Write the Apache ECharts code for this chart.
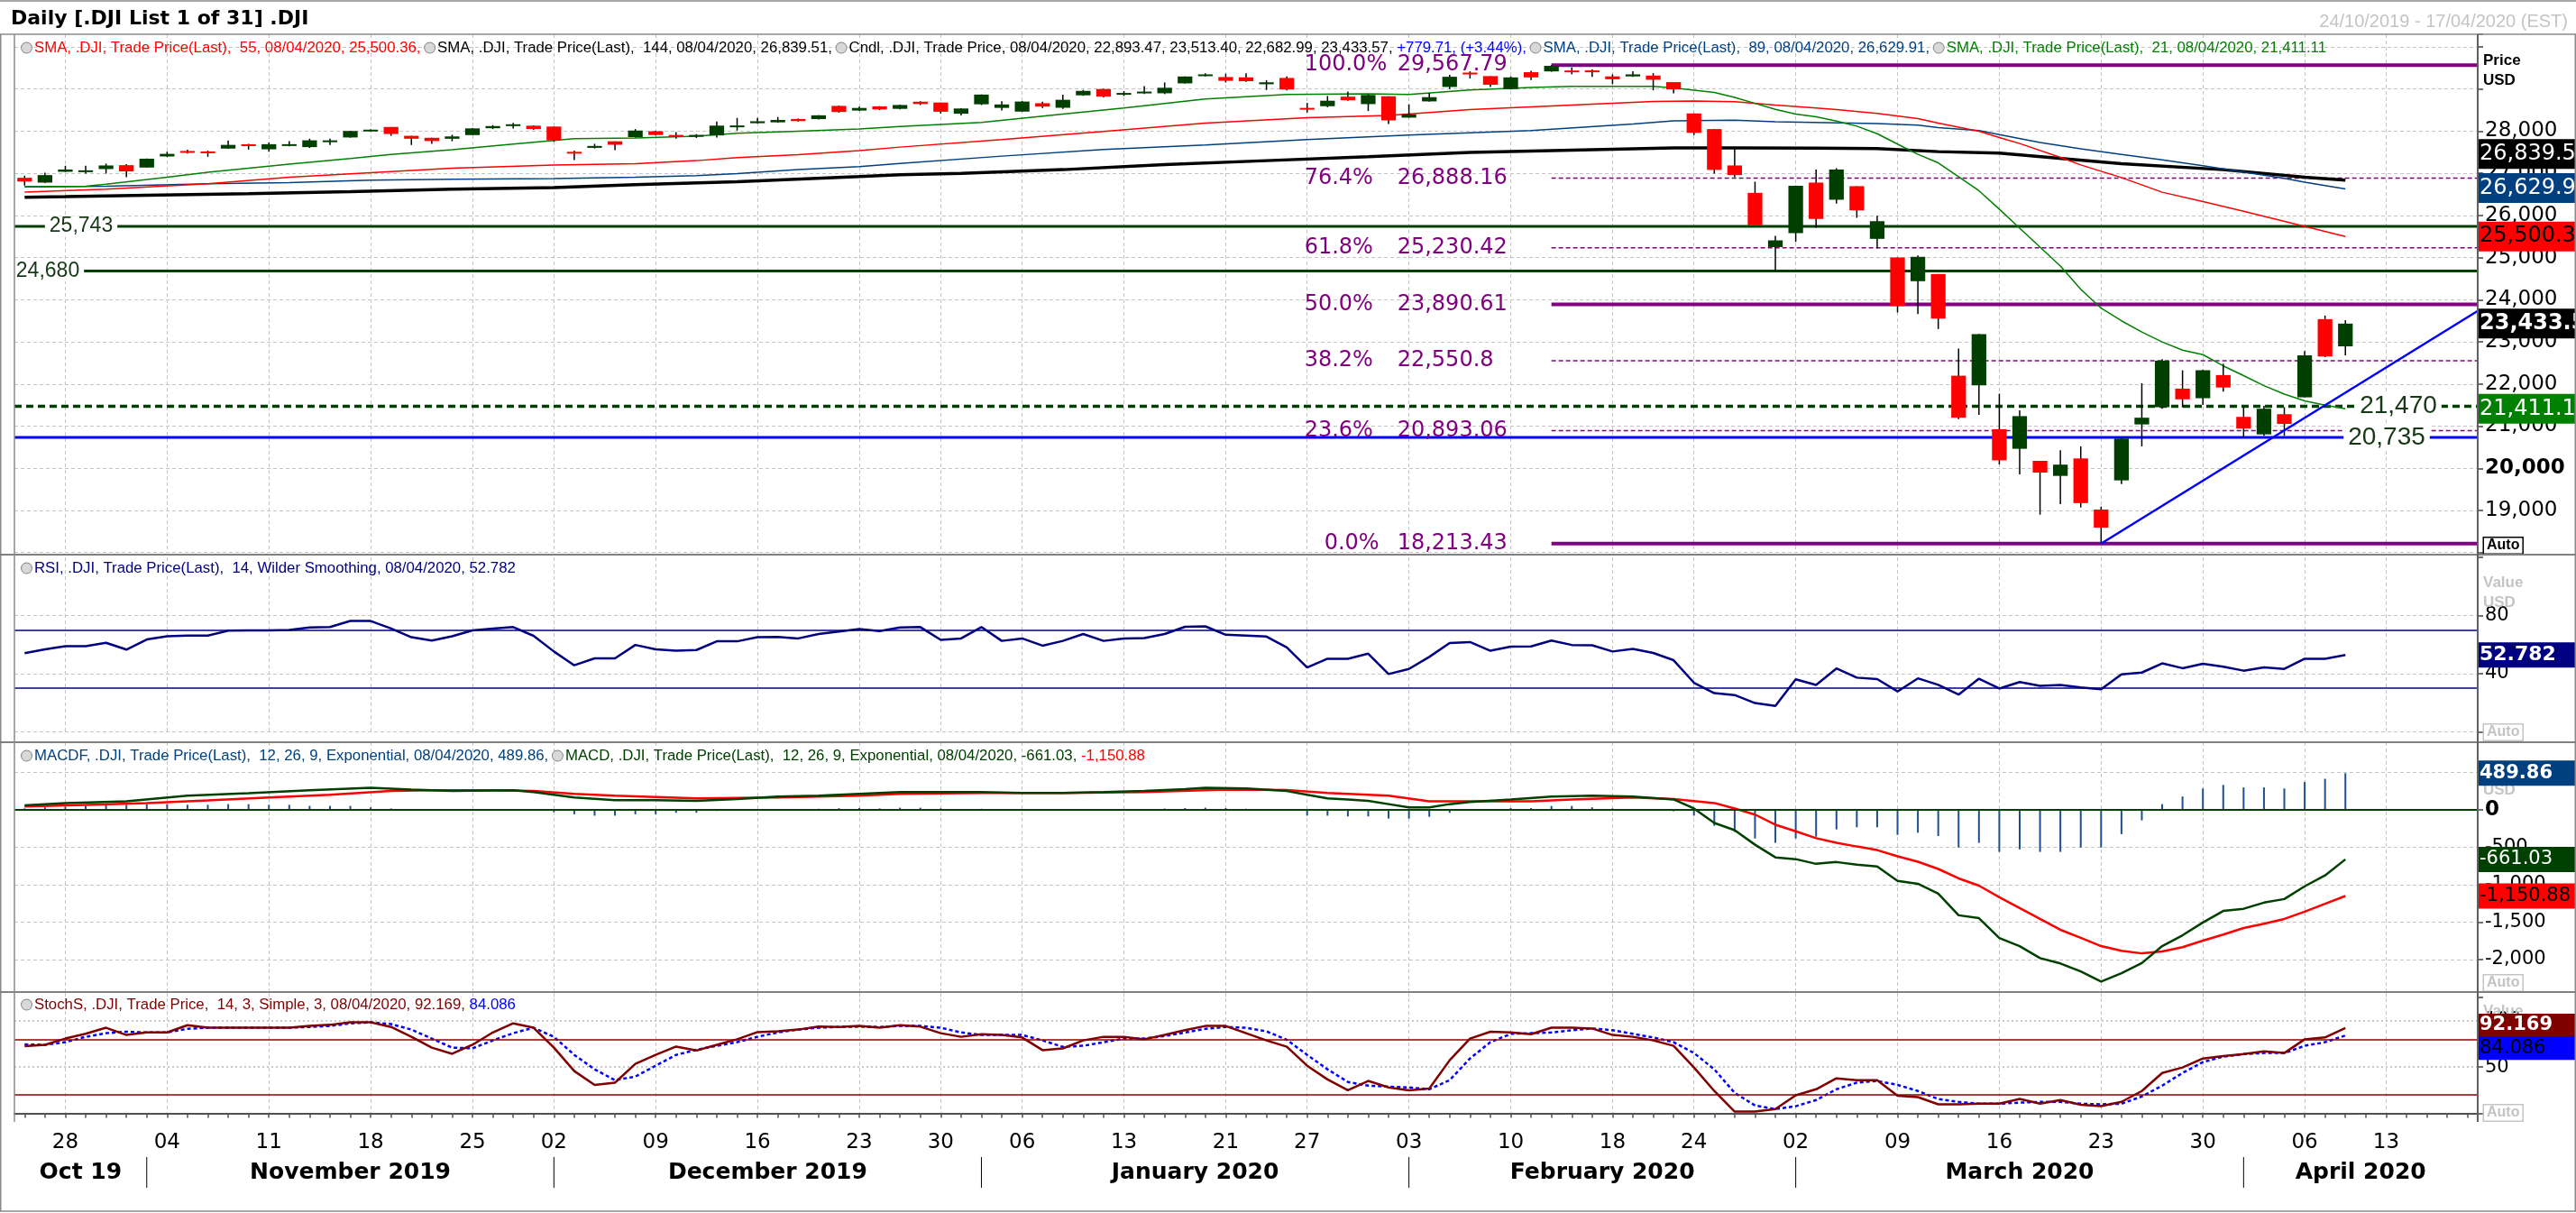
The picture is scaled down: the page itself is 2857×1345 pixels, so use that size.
<!DOCTYPE html>
<html><head><meta charset="utf-8">
<script src="https://cdn.jsdelivr.net/npm/echarts@6/dist/echarts.min.js"></script>
<style>html,body{margin:0;padding:0;background:#fff}#c{width:2857px;height:1345px}</style>
</head><body><div id="c"></div>
<script>
// ================= DATA =================
const dates = [
  ...'24 25 28 29 30 31'.split(' ').map(d => '2019-10-' + d),
  ...'01 04 05 06 07 08 11 12 13 14 15 18 19 20 21 22 25 26 27 29'.split(' ').map(d => '2019-11-' + d),
  ...'02 03 04 05 06 09 10 11 12 13 16 17 18 19 20 23 24 26 27 30 31'.split(' ').map(d => '2019-12-' + d),
  ...'02 03 06 07 08 09 10 13 14 15 16 17 21 22 23 24 27 28 29 30 31'.split(' ').map(d => '2020-01-' + d),
  ...'03 04 05 06 07 10 11 12 13 14 18 19 20 21 24 25 26 27 28'.split(' ').map(d => '2020-02-' + d),
  ...'02 03 04 05 06 09 10 11 12 13 16 17 18 19 20 23 24 25 26 27 30 31'.split(' ').map(d => '2020-03-' + d),
  ...'01 02 03 06 07 08 09 13 14 15 16 17'.split(' ').map(d => '2020-04-' + d)
];
const monthNames = ['Oct 19','November 2019','December 2019','January 2020','February 2020','March 2020','April 2020'];

const opens = [26894,26780,27037,27062,27101,27194,27137,27400,27530,27520,
 27587,27690,27570,27691.49,27622,27757,27851,27995,28100,27890,
 27843,27820,27908,28070,28140,28130,28110,27510,27605,27760,
 27860,27999,27910,27870,27900,28123,28190,28210,28290,28287,
 28600,28490,28590,28530,28700,28680,28415,28638,28553,28465,
 28664,28556,28851,29000,28880,28900,28900,29135,29310,29285,
 29278,29114,29264,28553,28593,28820,28643,28829,28322,28707,
 29050,29390,29307,29000,29400,29419,29440,29442,29300,29300,
 29320,29164,28422,28050,27187,26537,25250,25581,26780,26373,
 26695,25445,25003,24440,24610,22197,21969,20927,20463,20177,
 19820,20234,19021,19713,21041,21448,21890,21663,22212,21220,
 20805,21284,21684,23540,22893.47];
const highs = [26944,27016,27180,27180,27230,27216,27354,27513,27560,27537,
 27780,27700,27730,27766,27822,27822,28010,28040,28100,27890,
 27843,27915,28072,28145,28195,28140,28110,27537,27700,27760,
 28050,28010,27980,27930,28230,28315,28315,28337,28300,28380,
 28608,28580,28595,28630,28710,28680,28547,28872,28713,28715,
 28700,28866,28980,29010,28950,29070,29157,29300,29373,29364,
 29373,29210,29300,28672,28836,28943,28870,28829,28636,28907,
 29335,29421,29307,29300,29435,29568.57,29514,29463,29350,29421,
 29378,29164,28422,28050,27587,26802,25517,26710,27087,27123,
 26695,25995,25003,25053,24610,22840,23190,21769,21377,20177,
 20428,20520,19093,20710,22019,22590,22326,22340,22483,21448,
 21484,21448,22783,23625,23513.40];
const lows = [26709,26766,27030,26994,26994,26909,27130,27390,27470,27394,
 27580,27565,27515,27640,27601,27672,27845,27990,27890,27672,
 27700,27760,27908,28050,28065,28030,27750,27316,27590,27550,
 27850,27900,27822,27840,27850,28015,28180,28200,28230,28280,
 28440,28480,28500,28520,28620,28420,28376,28620,28493,28460,
 28550,28530,28840,28800,28835,28880,28880,29130,29300,29157,
 29170,28980,28970,28443,28570,28720,28479,28172,28320,28700,
 29000,29250,29050,28990,29215,29410,29350,29287,29114,29290,
 28971,28900,27908,26994,26909,25766,24681,25374,25710,26280,
 25945,25217,23697,23661,23304,21165,21270,20092,19856,18900,
 19150,19071,18213.65,19628,20520,21412,21448,21505,21819,20748,
 20770,20770,21684,22640,22682.99];
const closes = [26805.53,26958.06,27090.72,27071.46,27186.69,27046.23,27347.36,27462.11,27492.63,27492.56,
 27674.80,27681.24,27691.49,27691.49,27783.59,27781.96,28004.89,28036.22,27934.02,27821.09,
 27766.29,27875.62,28066.47,28121.68,28164.00,28051.41,27783.04,27502.81,27649.78,27677.79,
 28015.06,27909.60,27881.72,27911.30,28132.05,28135.38,28235.89,28267.16,28239.28,28376.96,
 28455.09,28551.53,28515.45,28621.39,28645.26,28462.14,28538.44,28868.80,28634.88,28703.38,
 28583.68,28745.09,28956.90,28823.77,28907.05,28939.67,29030.22,29297.64,29348.10,29196.04,
 29186.27,29160.09,28989.73,28535.80,28722.85,28734.45,28859.44,28256.03,28399.81,28807.63,
 29290.85,29379.77,29102.51,29276.82,29276.34,29551.42,29423.31,29398.08,29232.19,29348.03,
 29219.98,28992.41,27960.80,27081.36,26957.59,25766.64,25409.36,26703.32,25917.41,27090.86,
 26121.28,25864.78,23851.02,25018.16,23553.22,21200.62,23185.62,20188.52,21237.38,19898.92,
 20087.19,19173.98,18591.93,20704.91,21200.55,22552.17,21636.78,22327.48,21917.16,20943.51,
 21413.44,21052.53,22679.99,22653.86,23433.57];

// moving averages: [day index, value]
const sma21 = [[0,26683],[3,26695],[4,26740],[7,26909],[9,27023],[11,27123],[13,27216],[16,27350],[18,27450],[21,27558],[24,27694],[26,27780],[27,27822],[30,27837],[33,27880],[35,27950],[38,28001],[41,28051],[43,28110],[47,28208],[51,28407],[54,28550],[58,28764],[62,28871],[66,28885],[68,28871],[71,28978],[74,29036],[76,29064],[80,29064],[81,29028],[83,28920],[84,28800],[85,28660],[86,28520],[87,28407],[88,28340],[89,28240],[90,28120],[91,27940],[92,27694],[93,27450],[94,27250],[96,26587],[97,26150],[98,25700],[99,25250],[100,24800],[101,24250],[102,23800],[103,23500],[104,23233],[105,23000],[106,22804],[107,22697],[108,22430],[109,22200],[110,21960],[111,21760],[112,21600],[113,21500],[114,21411.11]];
const sma55 = [[0,26555],[4,26623],[9,26752],[13,26909],[17,27016],[21,27123],[26,27194],[30,27230],[33,27301],[35,27373],[38,27444],[41,27537],[43,27622],[48,27801],[53,27993],[58,28193],[63,28322],[67,28372],[71,28514],[76,28622],[80,28707],[82,28714],[84,28700],[86,28620],[88,28550],[89,28514],[91,28420],[93,28300],[94,28190],[96,28000],[97,27850],[98,27708],[100,27380],[101,27200],[103,26900],[105,26552],[107,26330],[109,26100],[112,25740],[114,25500.36]];
const sma89 = [[0,26680],[4,26695],[9,26752],[13,26780],[17,26837],[21,26859],[26,26873],[30,26909],[33,26944],[35,26994],[38,27087],[41,27159],[43,27235],[48,27408],[53,27565],[58,27672],[63,27801],[68,27908],[74,28014],[79,28172],[81,28243],[84,28264],[86,28222],[91,28179],[93,28143],[94,28086],[96,28015],[97,27920],[99,27730],[101,27580],[103,27450],[105,27320],[107,27180],[109,27030],[111,26880],[112,26790],[114,26629.91]];
const sma144 = [[0,26430],[2,26445],[6,26480],[11,26516],[16,26566],[21,26623],[26,26659],[30,26730],[35,26802],[41,26923],[43,26966],[46,27001],[51,27087],[56,27208],[61,27301],[66,27394],[71,27494],[76,27551],[81,27601],[84,27605],[88,27600],[91,27587],[94,27515],[97,27480],[103,27230],[108,27087],[112,26909],[114,26839.51]];

const fibPct = ['100.0%','76.4%','61.8%','50.0%','38.2%','23.6%','0.0%'];
const fibValues = [29567.79, 26888.16, 25230.42, 23890.61, 22550.8, 20893.06, 18213.43];
const fibStartIdx = 75;
const levelValues = [25743, 24680, 21470, 20735];
const trendPoints = [102, 18213.43, 114, 21795];

const rsi = [54.0,56.7,58.9,58.9,61.2,56.5,63.5,65.7,66.2,66.2,
 69.5,69.7,69.7,70.0,71.7,72.0,76.2,76.2,71.0,65.0,
 62.7,65.7,69.7,71.0,72.0,66.0,55.2,45.7,50.5,50.5,
 59.7,56.7,55.7,56.2,62.2,62.2,65.0,65.2,64.2,67.2,
 69.0,70.7,69.2,71.7,72.0,63.2,64.2,72.0,62.5,64.2,
 59.2,62.5,67.2,62.5,64.2,64.5,67.2,72.2,72.5,66.7,
 66.2,65.5,58.0,44.2,50.2,50.2,53.7,39.7,43.2,51.5,
 61.0,61.7,55.7,58.5,58.7,62.7,59.7,59.5,55.2,57.0,
 54.2,49.2,33.7,26.5,25.2,19.7,17.7,36.0,32.2,43.5,
 37.2,36.2,27.7,36.7,32.2,25.5,36.5,29.7,34.2,31.5,
 32.2,30.5,29.2,39.5,40.7,47.0,43.7,46.7,44.7,42.0,
 44.2,43.2,50.2,50.2,52.782];

const macd = [[0,60],[2,92],[5,116],[8,189],[11,223],[14,261],[17,295],[19,271],[21,252],[24,261],[25,237],[27,165],[29,131],[31,131],[33,121],[35,145],[37,179],[39,189],[41,213],[43,237],[47,237],[49,227],[51,227],[53,237],[55,252],[57,276],[58,295],[60,286],[62,252],[63,203],[64,155],[65,140],[66,120],[67,77],[68,34],[69,34],[70,77],[71,106],[73,140],[75,179],[77,189],[79,179],[81,140],[82,19],[83,-174],[84,-271],[85,-465],[86,-634],[87,-658],[88,-721],[89,-697],[90,-731],[91,-755],[92,-949],[93,-987],[94,-1118],[95,-1408],[96,-1447],[97,-1713],[98,-1820],[99,-1980],[100,-2052],[101,-2159],[102,-2294],[103,-2183],[104,-2047],[105,-1820],[106,-1675],[107,-1505],[108,-1350],[109,-1321],[110,-1239],[111,-1191],[112,-1021],[113,-876],[114,-661.03]];
const macdSignal = [[0,44],[3,68],[6,92],[9,126],[12,165],[15,203],[18,252],[20,261],[23,261],[25,252],[27,213],[29,189],[33,155],[37,165],[41,189],[43,213],[47,227],[51,227],[55,237],[59,271],[62,265],[64,227],[67,189],[69,116],[74,116],[76,140],[79,165],[81,145],[83,92],[84,19],[85,-63],[86,-198],[87,-286],[88,-378],[89,-440],[90,-489],[91,-537],[92,-620],[93,-692],[94,-789],[95,-915],[96,-1012],[97,-1166],[98,-1312],[99,-1457],[100,-1602],[101,-1709],[102,-1820],[103,-1883],[104,-1917],[105,-1892],[106,-1834],[107,-1747],[108,-1665],[109,-1578],[110,-1520],[111,-1457],[112,-1360],[113,-1254],[114,-1150.88]];
const macdHist = [20,35,43,53,68,68,77,77,68,68,
 77,77,68,68,53,53,53,34,19,5,
 -5,-8,0,5,3,-10,-30,-58,-77,-77,
 -58,-58,-39,-39,-15,-5,5,10,12,15,
 22,25,20,29,29,20,12,15,8,5,
 -2,2,8,5,8,12,18,25,30,25,
 15,10,-10,-77,-77,-87,-87,-116,-116,-92,
 -39,0,5,24,24,53,53,34,19,5,
 -5,-19,-77,-213,-295,-382,-440,-382,-358,-261,
 -232,-232,-334,-305,-349,-503,-440,-561,-528,-561,
 -561,-503,-503,-324,-140,77,179,286,334,300,
 300,286,373,416,489.86];

const stochK = [72.5,74.1,80.8,86,92.5,84.7,87.4,87.4,95.2,92.5,
 92.5,92.5,92.5,92.5,94.4,95.6,98.3,98.3,93.3,82.7,
 71.0,64.4,74.1,87.4,97.2,92.5,71.0,45.7,30.8,33.2,
 53.5,63.2,72.2,67.9,74.1,80.0,87.8,88.6,90.5,93.7,
 93.3,94.4,92.5,95.2,93.7,86.6,82.7,85.5,84.7,82.0,
 68.3,70.2,78.8,82.7,82.7,80.0,84.7,89.8,94.4,94.4,
 86.6,78.8,72,51.5,36.7,25.0,35.1,28.1,25.0,26.9,
 57.4,80.8,88.2,87.4,85.5,92.5,92.5,91.7,84.7,82.7,
 78.8,73.0,49.6,24.2,2.0,2.0,4.7,19.5,26.1,37.9,
 35.9,35.9,19.1,17.6,9.8,9.8,10.5,10.5,15.6,10.5,
 14.4,9.4,7.8,12.5,24.2,43.7,49.6,59.3,62.0,64.0,
 67.1,65.2,80.0,82.0,92.169];
const stochD = [74.5,74.1,76.9,82.7,86.6,88.2,87.4,87.4,91.3,92.5,
 92.5,92.5,92.5,92.5,93.3,94.4,97.2,98.3,96.4,90.5,
 80.8,71.0,70.2,78.8,86.6,92.5,82.7,63.2,47.6,35.9,
 39.8,51.5,63.2,68.7,73.0,76.9,82.7,87.4,90.5,92.5,
 93.3,93.7,93.3,94.4,94.4,92.5,87.4,84.7,84.7,84.7,
 78.8,71.8,73.0,76.9,80.8,80.8,83.5,87.4,91.3,93.3,
 92.5,88.6,79.5,63.2,47.6,34.0,30.0,28.9,28.1,26.1,
 35.9,59.3,76.9,85.9,86.6,87.4,89.8,91.7,89.8,85.9,
 82.0,76.9,65.2,47.6,22.2,8.6,4.7,7.8,14.4,26.1,
 33.2,35.1,30.8,24.2,15.6,12.5,10.5,10.5,11.7,12.5,
 12.5,10.5,9.8,10.5,18.3,30.0,43.7,55.4,61.3,64.0,
 65.2,65.2,73.0,76.9,84.086];

// ================= HELPERS / STYLE =================
const DV = '"DejaVu Sans", Verdana, sans-serif';
const LS = '"Liberation Sans", Arial, sans-serif';
const last = a => a[a.length - 1];
const lastV = a => last(a)[1];
const fmt2 = v => v.toLocaleString('en-US', {minimumFractionDigits: 2, maximumFractionDigits: 2});
const fmtN = v => v.toLocaleString('en-US', {maximumFractionDigits: 2});
const N = closes.length - 1;
const dayIdx = d => new Date(d + 'T00:00:00Z').getUTCDay();
const weekStart = dates.map((d, i) => i > 0 && dayIdx(d) < dayIdx(dates[i - 1]));
const monthStarts = dates.map((d, i) => (i === 0 || d.slice(5, 7) !== dates[i - 1].slice(5, 7)) ? i : -1).filter(i => i >= 0);
const lastDate = dates[N].split('-').reverse().join('/');
const AX_OFF = 9.4;
const LEG_FONT = '16.8px ' + LS;

const UP = '#003f00', DOWN = '#ff0000';

function xAxisFor(k, main) {
  const ax = {
    type: 'category', data: dates, gridIndex: k, boundaryGap: true,
    axisLine: {show: false}, axisTick: {show: false}, axisLabel: {show: false},
    splitLine: {show: true, interval: (i) => weekStart[i], alignWithLabel: true,
      lineStyle: {color: '#c4c4c4', type: [4, 3], width: 1}}
  };
  if (main) {
    ax.offset = AX_OFF;
    ax.axisLine = {show: true, lineStyle: {color: '#505050', width: 2}};
    ax.axisTick = {show: true, interval: 0, alignWithLabel: true, length: 5, lineStyle: {color: '#505050', width: 1.5}};
    ax.axisLabel = {show: true, interval: (i) => weekStart[i], formatter: v => v.slice(8),
      fontSize: 23, margin: 12, color: '#000', fontFamily: DV};
  }
  return ax;
}
const splitDash = {color: '#c4c4c4', type: [4, 3], width: 1};
const tickStyle = {show: true, length: 6, lineStyle: {color: '#404040', width: 1.5}};

function tagSeries(k, tags, h, fs) {
  return {
    type: 'custom', xAxisIndex: k, yAxisIndex: k, clip: false, z: 30, silent: true,
    data: tags.map(t => [N, t.v]),
    renderItem: (params, api) => {
      const t = tags[params.dataIndex], cs = params.coordSys;
      const y = api.coord([N, t.v])[1] + (t.dy || 0);
      const x = cs.x + cs.width;
      return {type: 'group', children: [
        {type: 'rect', shape: {x: x, y: y - h / 2, width: 2857 - x, height: h}, style: {fill: t.bg}},
        {type: 'text', style: {x: x + 2, y: y, text: t.text, fill: t.fg,
          font: (t.bold ? 'bold ' : '') + fs + 'px ' + DV, align: 'left', verticalAlign: 'middle'}}
      ]};
    }
  };
}

// ================= CHART =================
const chart = echarts.init(document.getElementById('c'), null, {renderer: 'canvas'});

const candleData = opens.map((o, i) => [i, o, closes[i], lows[i], highs[i]]);

const levelStyles = [
  {color: '#004000', width: 3, dash: null, side: 'left', off: 74, fs: 23},
  {color: '#004000', width: 3, dash: null, side: 'left', off: 37, fs: 23},
  {color: '#004000', width: 3.5, dash: [8, 5], side: 'right', off: 88, fs: 28},
  {color: '#0000ff', width: 3, dash: null, side: 'right', off: 101, fs: 28}
];
const fibMajor = [true, false, false, true, false, false, true];
const fibPctShift = [0, 0, 0, 0, 0, 0, 22];

const priceTags = [
  {v: lastV(sma144), text: fmt2(lastV(sma144)), bg: '#000000', fg: '#ffffff', dy: -29},
  {v: lastV(sma89), text: fmt2(lastV(sma89)), bg: '#004080', fg: '#ffffff', dy: -1},
  {v: lastV(sma55), text: fmt2(lastV(sma55)), bg: '#ff0000', fg: '#000000'},
  {v: closes[N], text: fmt2(closes[N]), bg: '#000000', fg: '#ffffff', bold: true},
  {v: lastV(sma21), text: fmt2(lastV(sma21)), bg: '#008000', fg: '#ffffff'}
];
const rsiTags = [{v: rsi[N], text: String(rsi[N]), bg: '#000080', fg: '#ffffff', bold: true}];
const macdTags = [
  {v: macdHist[N], text: fmt2(macdHist[N]), bg: '#004080', fg: '#ffffff', bold: true},
  {v: lastV(macd), text: fmt2(lastV(macd)), bg: '#004000', fg: '#ffffff'},
  {v: lastV(macdSignal), text: fmt2(lastV(macdSignal)), bg: '#ff0000', fg: '#000000'}
];
const stochTags = [
  {v: stochK[N], text: String(stochK[N]), bg: '#800000', fg: '#ffffff', bold: true, dy: -3},
  {v: stochD[N], text: String(stochD[N]), bg: '#0000ff', fg: '#000000', dy: 14}
];

const lineS = (k, data, color, width, z, type) => ({
  type: 'line', xAxisIndex: k, yAxisIndex: k, data: data, showSymbol: false, symbol: 'none', silent: true, z: z || 3,
  lineStyle: {color: color, width: width, type: type || 'solid'}, itemStyle: {color: color}
});
const hLines = (vals, color, width) => ({silent: true, symbol: 'none', label: {show: false},
  lineStyle: {color: color, width: width, type: 'solid'}, data: vals.map(v => ({yAxis: v}))});

// legends
const chg = closes[N] - closes[N - 1];
const legendRich = {
  ic: {width: 11, height: 11, borderRadius: 6, backgroundColor: '#d8d8d8', borderColor: '#888', borderWidth: 1},
  sp: {width: 3},
  r: {fill: '#ff0000'}, k: {fill: '#000000'}, b: {fill: '#0000ff'},
  db: {fill: '#004080'}, g: {fill: '#008000'}, nv: {fill: '#000080'}, dg: {fill: '#004000'},
  dr: {fill: '#800000'}, bl: {fill: '#0000ff'}, rd: {fill: '#ff0000'}
};
const legendPrice =
  '{ic| }{sp| }{r|SMA, .DJI, Trade Price(Last),  55, ' + lastDate + ', ' + fmt2(lastV(sma55)) + ', }' +
  '{ic| }{sp| }{k|SMA, .DJI, Trade Price(Last),  144, ' + lastDate + ', ' + fmt2(lastV(sma144)) + ', }' +
  '{ic| }{sp| }{k|Cndl, .DJI, Trade Price, ' + lastDate + ', ' + fmt2(opens[N]) + ', ' + fmt2(highs[N]) + ', ' + fmt2(lows[N]) + ', ' + fmt2(closes[N]) + ', }' +
  '{b|+' + fmt2(chg) + ', (+' + (chg / closes[N - 1] * 100).toFixed(2) + '%), }' +
  '{ic| }{sp| }{db|SMA, .DJI, Trade Price(Last),  89, ' + lastDate + ', ' + fmt2(lastV(sma89)) + ', }' +
  '{ic| }{sp| }{g|SMA, .DJI, Trade Price(Last),  21, ' + lastDate + ', ' + fmt2(lastV(sma21)) + '}';
const legendRsi = '{ic| }{sp| }{nv|RSI, .DJI, Trade Price(Last),  14, Wilder Smoothing, ' + lastDate + ', ' + rsi[N] + '}';
const legendMacd = '{ic| }{sp| }{db|MACDF, .DJI, Trade Price(Last),  12, 26, 9, Exponential, ' + lastDate + ', ' + fmt2(macdHist[N]) + ', }' +
  '{ic| }{sp| }{dg|MACD, .DJI, Trade Price(Last),  12, 26, 9, Exponential, ' + lastDate + ', ' + fmt2(lastV(macd)) + ', }{rd|' + fmt2(lastV(macdSignal)) + '}';
const legendStoch = '{ic| }{sp| }{dr|StochS, .DJI, Trade Price,  14, 3, Simple, 3, ' + lastDate + ', ' + stochK[N] + ', }{bl|' + stochD[N] + '}';

const gtext = (x, y, text, font, fill, extra, z) => ({type: 'text', x: x, y: y, z: z == null ? 100 : z, silent: true,
  style: Object.assign({text: text, font: font, fill: fill, align: 'left', verticalAlign: 'middle',
    textAlign: 'left', textVerticalAlign: 'middle'}, extra || {})});
const gline = (x1, y1, x2, y2, stroke, w) => ({type: 'line', z: 90, silent: true,
  shape: {x1: x1, y1: y1, x2: x2, y2: y2}, style: {stroke: stroke, lineWidth: w}});
const autoBox = (y, col) => gtext(2755, y, 'Auto', 'bold 16px ' + LS, col,
  {borderColor: col, borderWidth: 1.5, padding: [1, 3, 0, 3], backgroundColor: '#fff'}, 1);
const unitText = (y, t, col) => gtext(2754, y, t, 'bold 17px ' + LS, col, null, 1);

const option = {
  animation: false,
  backgroundColor: '#ffffff',
  grid: [
    {left: 16, right: 109, top: 38, height: 574.7},
    {left: 16, right: 109, top: 618, height: 193.3},
    {left: 16, right: 109, top: 823, height: 282.5},
    {left: 16, right: 109, top: 1100, height: 134.6}
  ],
  xAxis: [xAxisFor(0), xAxisFor(1), xAxisFor(2), xAxisFor(3, true)],
  yAxis: [
    {type: 'value', gridIndex: 0, position: 'right', min: 18000, max: 30300, interval: 1000,
      axisLine: {show: false}, axisTick: tickStyle,
      splitLine: {show: true, showMaxLine: false, lineStyle: splitDash},
      axisLabel: {fontSize: 23, fontFamily: DV, color: '#000', margin: 8,
        formatter: v => (v >= 19000 && v <= 28000) ? (v === 20000 ? '{b|20,000}' : v.toLocaleString('en-US')) : '',
        rich: {b: {fontWeight: 'bold', fontSize: 23, fontFamily: DV, color: '#000'}}}},
    {type: 'value', gridIndex: 1, position: 'right', min: 0, max: 120, interval: 40,
      axisLine: {show: false}, axisTick: tickStyle,
      splitLine: {show: true, showMaxLine: false, lineStyle: splitDash},
      axisLabel: {fontSize: 21, fontFamily: DV, color: '#000', margin: 8,
        formatter: v => (v === 40 || v === 80) ? String(v) : ''}},
    {type: 'value', gridIndex: 2, position: 'right', min: -2500, max: 904, interval: 500,
      axisLine: {show: false}, axisTick: tickStyle,
      splitLine: {show: true, showMinLine: false, showMaxLine: false, lineStyle: splitDash},
      axisLabel: {fontSize: 21, fontFamily: DV, color: '#000', margin: 8,
        formatter: v => v === 0 ? '{b|0}' : ((v >= -2000 && v <= 500 && v % 500 === 0) ? v.toLocaleString('en-US') : ''),
        rich: {b: {fontWeight: 'bold', fontSize: 23, fontFamily: DV, color: '#000'}}}},
    {type: 'value', gridIndex: 3, position: 'right', min: 0, max: 131, interval: 50,
      axisLine: {show: false}, axisTick: tickStyle,
      splitLine: {show: true, showMaxLine: false, lineStyle: {color: '#b8b8b8', type: [2, 3], width: 1.5}},
      axisLabel: {fontSize: 21, fontFamily: DV, color: '#000', margin: 8,
        formatter: v => (v === 50 || v === 100) ? String(v) : ''}}
  ],
  series: [
    // ---- horizontal levels ----
    {type: 'custom', xAxisIndex: 0, yAxisIndex: 0, z: 2, silent: true, clip: false,
      data: levelValues.map(v => [0, v]),
      renderItem: (params, api) => {
        const s = levelStyles[params.dataIndex], cs = params.coordSys;
        const v = levelValues[params.dataIndex];
        const y = api.coord([0, v])[1];
        const cx = s.side === 'left' ? cs.x + s.off : cs.x + cs.width - s.off;
        return {type: 'group', children: [
          {type: 'line', shape: {x1: cs.x, y1: y, x2: cs.x + cs.width, y2: y},
            style: {stroke: s.color, lineWidth: s.width, lineDash: s.dash}},
          {type: 'text', z2: 10, style: {x: cx, y: y, text: fmtN(v), fill: '#163816', font: s.fs + 'px ' + LS,
            align: 'center', verticalAlign: 'middle', backgroundColor: '#ffffff', padding: [0, 5]}}
        ]};
      }},
    // ---- fibonacci ----
    {type: 'custom', xAxisIndex: 0, yAxisIndex: 0, z: 2, silent: true, clip: false,
      data: fibValues.map(v => [fibStartIdx, v]),
      renderItem: (params, api) => {
        const i = params.dataIndex, cs = params.coordSys;
        const p = api.coord([fibStartIdx, fibValues[i]]);
        const major = fibMajor[i];
        return {type: 'group', children: [
          {type: 'line', shape: {x1: p[0], y1: p[1], x2: cs.x + cs.width, y2: p[1]},
            style: {stroke: '#800080', lineWidth: major ? 4 : 1.5, lineDash: major ? null : [5, 3]}},
          {type: 'text', style: {x: p[0] - 274 + fibPctShift[i], y: p[1], text: fibPct[i], fill: '#800080', font: '24px ' + DV,
            align: 'left', verticalAlign: 'middle'}},
          {type: 'text', style: {x: p[0] - 171, y: p[1], text: fmtN(fibValues[i]), fill: '#800080', font: '24px ' + DV,
            align: 'left', verticalAlign: 'middle'}}
        ]};
      }},
    // ---- moving averages ----
    lineS(0, sma144, '#000000', 3.5, 3),
    lineS(0, sma89, '#004080', 1.5, 3),
    lineS(0, sma55, '#ff0000', 1.5, 3),
    lineS(0, sma21, '#008000', 1.5, 3),
    // ---- candles ----
    {type: 'custom', xAxisIndex: 0, yAxisIndex: 0, z: 5, silent: true,
      data: candleData, encode: {x: 0, y: [1, 2, 3, 4]},
      renderItem: (params, api) => {
        const i = api.value(0), o = api.value(1), c = api.value(2), l = api.value(3), h = api.value(4);
        const pO = api.coord([i, o]), pC = api.coord([i, c]), pL = api.coord([i, l]), pH = api.coord([i, h]);
        const w = api.size([1, 0])[0] * 0.72, x = pO[0];
        const top = Math.min(pO[1], pC[1]), bot = Math.max(pO[1], pC[1]);
        return {type: 'group', children: [
          {type: 'line', shape: {x1: x, y1: pH[1], x2: x, y2: pL[1]}, style: {stroke: '#000000', lineWidth: 1.5}},
          {type: 'rect', shape: {x: x - w / 2, y: top, width: w, height: Math.max(bot - top, 2)},
            style: {fill: c >= o ? UP : DOWN}}
        ]};
      }},
    // ---- trend line ----
    {type: 'custom', xAxisIndex: 0, yAxisIndex: 0, z: 6, silent: true, clip: false,
      data: [trendPoints], encode: {x: [0, 2], y: [1, 3]},
      renderItem: (params, api) => {
        const cs = params.coordSys;
        const p0 = api.coord([api.value(0), api.value(1)]), p1 = api.coord([api.value(2), api.value(3)]);
        const xr = cs.x + cs.width;
        const yr = p0[1] + (p1[1] - p0[1]) * (xr - p0[0]) / (p1[0] - p0[0]);
        return {type: 'line', shape: {x1: p0[0], y1: p0[1], x2: xr, y2: yr}, style: {stroke: '#0000ff', lineWidth: 2.5}};
      }},
    tagSeries(0, priceTags, 33, 24),
    // ---- RSI ----
    Object.assign(lineS(1, rsi, '#000080', 2.5, 4), {markLine: hLines([70, 30], '#000080', 1.5)}),
    tagSeries(1, rsiTags, 28, 22),
    // ---- MACD ----
    {type: 'bar', xAxisIndex: 2, yAxisIndex: 2, data: macdHist, barWidth: 2, silent: true, z: 3,
      itemStyle: {color: '#1f4f8f'},
      markLine: hLines([0], '#004000', 2)},
    lineS(2, macdSignal, '#ff0000', 2.5, 4),
    lineS(2, macd, '#004000', 2.5, 5),
    tagSeries(2, macdTags, 28, 21),
    // ---- Stochastic ----
    Object.assign(lineS(3, stochK, '#800000', 2.5, 5), {markLine: hLines([80, 20], '#900000', 1.5)}),
    lineS(3, stochD, '#0000ff', 2.5, 4, [4, 3]),
    tagSeries(3, stochTags, 26, 21),
    // ---- month labels under the date axis ----
    {type: 'custom', xAxisIndex: 3, yAxisIndex: 3, z: 10, silent: true, clip: false,
      data: monthStarts.map(s => [s, 0]),
      renderItem: (params, api) => {
        const k = params.dataIndex, cs = params.coordSys;
        const x0 = k === 0 ? cs.x : api.coord([monthStarts[k], 0])[0];
        const x1 = k === monthStarts.length - 1 ? cs.x + cs.width : api.coord([monthStarts[k + 1], 0])[0];
        const ay = cs.y + cs.height + AX_OFF;
        const ch = [{type: 'text', style: {x: (x0 + x1) / 2, y: ay + 56, text: monthNames[k], fill: '#000',
          font: 'bold 25px ' + DV, align: 'center', verticalAlign: 'middle'}}];
        if (k > 0) ch.push({type: 'line', shape: {x1: x0, y1: ay + 39, x2: x0, y2: ay + 73}, style: {stroke: '#000', lineWidth: 1}});
        return {type: 'group', children: ch};
      }}
  ],
  graphic: [
    {type: 'rect', z: 90, silent: true, shape: {x: 0, y: 0, width: 2857, height: 2}, style: {fill: '#a8a8a8'}},
    gtext(12, 21, 'Daily [.DJI List 1 of 31] .DJI', 'bold 22px ' + DV, '#000'),
    gtext(2848, 24, '24/10/2019 - ' + dates[dates.length - 1].split('-').reverse().join('/') + ' (EST)', '20px ' + LS, '#c4c4c4',
      {align: 'right', textAlign: 'right'}),
    {type: 'rect', z: 90, silent: true, shape: {x: 0.75, y: 38, width: 2855.5, height: 1305}, style: {fill: null, stroke: '#8a8a8a', lineWidth: 1.5}},
    gline(0, 615, 2857, 615, '#808080', 2),
    gline(0, 823, 2857, 823, '#808080', 2),
    gline(0, 1100, 2857, 1100, '#808080', 2),
    gline(16, 38, 16, 1244, '#8a8a8a', 1.5),
    gline(2748, 38, 2748, 1244, '#606060', 2),
    gtext(24, 53, legendPrice, LEG_FONT, '#000', {rich: legendRich}),
    gtext(24, 630, legendRsi, LEG_FONT, '#000', {rich: legendRich}),
    gtext(24, 838, legendMacd, LEG_FONT, '#000', {rich: legendRich}),
    gtext(24, 1114, legendStoch, LEG_FONT, '#000', {rich: legendRich}),
    unitText(67, 'Price', '#000'),
    unitText(89, 'USD', '#000'),
    unitText(646, 'Value', '#c4c4c4'),
    unitText(668, 'USD', '#c4c4c4'),
    unitText(853, 'Value', '#c4c4c4'),
    unitText(876, 'USD', '#c4c4c4'),
    unitText(1121, 'Value', '#c4c4c4'),
    autoBox(605, '#000'),
    autoBox(812, '#c4c4c4'),
    autoBox(1090, '#c4c4c4'),
    autoBox(1234, '#c4c4c4')
  ]
};
chart.setOption(option);
</script>
</body></html>
